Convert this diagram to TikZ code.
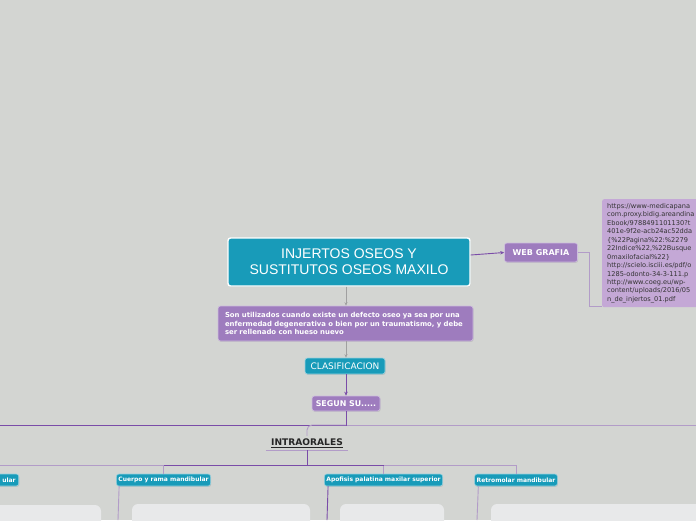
\documentclass[tikz,border=0pt]{standalone}
\usepackage{fontspec}
\setmainfont{DejaVu Sans}
\newfontfamily\titlefont{Liberation Sans}
\usetikzlibrary{arrows.meta,shadows}
\definecolor{bg}{RGB}{211,213,210}
\definecolor{teal}{RGB}{24,155,185}
\definecolor{purp}{RGB}{158,124,190}
\definecolor{urlpurp}{RGB}{196,168,214}
\definecolor{darkline}{RGB}{122,76,168}
\definecolor{lightline}{RGB}{178,156,200}
\definecolor{grayline}{RGB}{160,160,160}
\definecolor{panel}{RGB}{232,233,234}
\tikzset{
  box/.style={rectangle, rounded corners=2.5pt, text=white, inner sep=2pt,
    drop shadow={opacity=0.25, shadow xshift=0.6pt, shadow yshift=-0.9pt}},
  tealbox/.style={box, fill=teal, draw=teal!45!white, line width=0.6pt},
  purpbox/.style={box, fill=purp, draw=purp!50!white, line width=0.6pt},
  subbox/.style={tealbox, font=\bfseries\fontsize{6}{7}\selectfont, minimum height=12pt},
  darkc/.style={draw=darkline, line width=0.9pt},
  lightc/.style={draw=lightline, line width=0.9pt},
  grayc/.style={draw=grayline, line width=0.7pt},
  panelbox/.style={fill=panel, rounded corners=6pt}
}
\begin{document}
\begin{tikzpicture}[x=1pt,y=-1pt]
\useasboundingbox (0,0) rectangle (696,520);
\clip (0,0) rectangle (696,520);
\fill[bg] (0,0) rectangle (696,520);

% panels
\fill[panelbox] (-10,505) rectangle (101,540);
\fill[panelbox] (132,504) rectangle (310,540);
\fill[panelbox] (340,504) rectangle (444,540);
\fill[panelbox] (491,504) rectangle (710,540);

% nodes
\node[tealbox, draw=white, line width=1.4pt, minimum width=242pt, minimum height=48pt,
  align=center, font=\titlefont\fontsize{14}{16}\selectfont] (main) at (349,262)
  {INJERTOS OSEOS Y\\SUSTITUTOS OSEOS MAXILO};
\node[purpbox, minimum width=255pt, minimum height=35pt, text width=241pt, align=left,
  inner xsep=7pt, inner ysep=3pt, font=\bfseries\fontsize{6.9}{8.7}\selectfont] (desc) at (345.5,323.5)
  {Son utilizados cuando existe un defecto oseo ya sea por una\\enfermedad degenerativa o bien por un traumatismo, y debe\\ser rellenado con hueso nuevo};
\node[tealbox, minimum width=80pt, minimum height=16pt, inner xsep=1pt, font=\fontsize{9}{10}\selectfont] (clas) at (345,366) {CLASIFICACION};
\node[purpbox, minimum width=68pt, minimum height=15pt, inner xsep=1pt, font=\bfseries\fontsize{7.9}{9}\selectfont] (segun) at (346,403.5) {SEGUN SU.....};
\node[purpbox, minimum width=73pt, minimum height=19pt, font=\bfseries\fontsize{8}{9}\selectfont] (web) at (541,252.5) {WEB GRAFIA};
\node[rectangle, rounded corners=2pt, fill=urlpurp, anchor=north west, minimum width=110pt,
  minimum height=108pt, text width=100pt, align=left, inner xsep=4pt, inner ysep=3pt,
  text=black!80, font=\fontsize{6.6}{8.45}\selectfont] (urls) at (602,199)
  {https://www-medicapana\\com.proxy.bidig.areandina\\Ebook/9788491101130?t\\401e-9f2e-acb24ac52dda\\\{\%22Pagina\%22:\%2279\\22Indice\%22,\%22Busque\\0maxilofacial\%22\}\\http://scielo.isciii.es/pdf/o\\1285-odonto-34-3-111.p\\http://www.coeg.eu/wp-\\content/uploads/2016/05\\n\_de\_injertos\_01.pdf};
\node[minimum width=82pt, minimum height=14pt, inner sep=1pt,
  font=\bfseries\fontsize{9.1}{10}\selectfont, text=black!85] (intra) at (307,443) {\underline{INTRAORALES}};

\node[subbox, anchor=east, text width=26pt, align=right, inner xsep=3pt] (cond) at (19,480) {ular};
\node[subbox] (cuerpo) at (163.5,480) {Cuerpo y rama mandibular};
\node[subbox] (apof) at (383.5,480) {Apofisis palatina maxilar superior};
\node[subbox] (retro) at (516,480) {Retromolar mandibular};

% coordinates
\coordinate (hl) at (0,425);
\coordinate (hr) at (696,425);
\coordinate (jl) at (0,465);
\coordinate (j) at (307,465);
\coordinate (cuerpoend) at (118,520);
\coordinate (apofend) at (327,520);
\coordinate (retroend) at (477,520);

% connectors
\draw[grayc, -{Stealth[length=3.5pt,width=3pt]}] (main.south -| segun.north) -- (desc.north -| segun.north);
\draw[grayc, -{Stealth[length=3.5pt,width=3pt]}] (desc.south -| segun.north) -- (clas.north -| segun.north);
\draw[darkc, -{Stealth[length=4pt,width=3.5pt]}] (clas.south -| segun.north) -- (segun.north);
\draw[darkc, -{Stealth[length=4pt,width=3.5pt]}] ([yshift=7pt]main.east) -- (web.west);
\draw[lightc] (web.east) -- ++(12,0) |- ([yshift=0.5pt]urls.south west);

\draw[lightc] (segun.south) |- (hr);
\draw[darkc] (segun.south) |- (hl);
\draw[lightc, rounded corners=5pt] (segun.south |- hl) -| (intra.north);
\draw[lightc] (intra.south west) -- (intra.south east);

\draw[lightc] (jl) -- (j);
\draw[lightc] (j) -| (retro.north);
\draw[lightc] (j) -| (apof.north);
\draw[lightc] (j) -| (cuerpo.north);
\draw[darkc] (j) -- (cuerpo.north |- j);
\draw[darkc] (j) -- (apof.north |- j);
\draw[darkc] (intra.south) -- (j);

\draw[lightc] (cuerpo.south west) ++(3,0) -- (cuerpoend);
\draw[darkc] (apof.south west) ++(4,0) -- (apofend);
\draw[lightc] (retro.south west) ++(4,0) -- (retroend);
\end{tikzpicture}
\end{document}
